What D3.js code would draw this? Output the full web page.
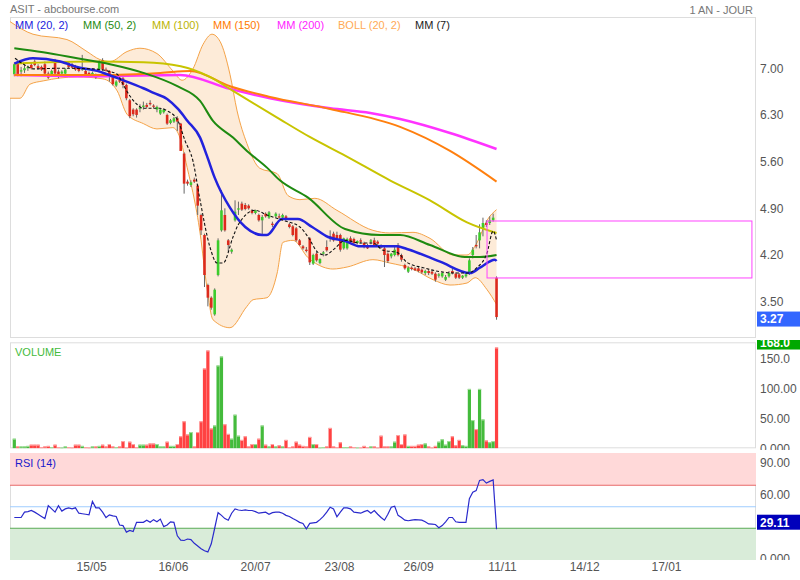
<!DOCTYPE html>
<html><head><meta charset="utf-8">
<script src="https://cdn.jsdelivr.net/npm/d3@7"></script>
<style>
body{margin:0;background:#fff;}
svg{display:block;font-family:"Liberation Sans",Arial,sans-serif;}
</style></head><body>
<svg id="c" width="800" height="580"></svg>
<script>
// ---------- DATA ----------
const opens=[6.91,7.10,6.95,6.97,7.00,7.05,7.10,7.03,7.02,7.06,6.92,6.90,7.10,6.95,6.92,6.92,7.08,7.06,7.03,7.00,6.98,6.96,6.93,6.90,6.90,6.98,7.12,6.98,6.96,6.88,6.74,6.82,6.85,6.75,6.52,6.38,6.38,6.40,6.42,6.45,6.48,6.44,6.38,6.32,6.34,6.30,6.18,6.20,6.25,6.17,5.72,5.30,5.25,5.33,5.24,4.80,4.50,3.75,3.56,3.31,3.90,4.57,4.80,4.42,4.25,4.72,4.88,4.97,4.95,4.94,4.87,4.83,4.80,4.72,4.82,4.76,4.67,4.78,4.78,4.76,4.78,4.66,4.63,4.60,4.42,4.33,4.28,4.45,4.07,4.22,4.08,4.22,4.32,4.48,4.52,4.50,4.50,4.30,4.30,4.45,4.44,4.38,4.42,4.38,4.35,4.40,4.42,4.40,4.33,4.30,4.22,4.18,4.20,4.35,4.20,4.05,3.95,4.01,4.00,4.00,3.98,3.93,3.96,3.95,3.92,3.89,3.88,3.83,3.88,3.96,3.92,3.91,3.86,3.88,3.92,4.20,4.35,4.42,4.60,4.68,4.68,4.72,3.86];
const highs=[7.08,7.12,7.02,7.05,7.04,7.08,7.13,7.06,7.04,7.10,6.95,6.98,7.14,6.98,6.97,7.00,7.10,7.08,7.05,7.02,7.20,6.98,6.95,6.95,6.92,7.12,7.15,7.01,6.97,6.90,6.82,6.85,6.90,6.77,6.54,6.40,6.40,6.46,6.50,6.48,6.52,6.46,6.44,6.40,6.40,6.32,6.24,6.27,6.28,6.18,5.74,5.33,5.32,5.36,5.26,4.82,4.52,3.77,3.58,3.70,4.45,5.17,4.90,4.44,4.30,5.02,5.00,5.00,4.98,4.96,4.89,4.88,4.82,4.80,4.84,4.86,4.70,4.84,4.82,4.82,4.80,4.68,4.65,4.62,4.44,4.35,4.32,4.47,4.22,4.25,4.15,4.26,4.42,4.57,4.55,4.55,4.52,4.46,4.46,4.48,4.46,4.42,4.45,4.40,4.37,4.44,4.46,4.42,4.36,4.32,4.24,4.23,4.33,4.38,4.22,4.07,4.03,4.03,4.02,4.02,4.00,3.98,3.98,3.97,3.94,3.93,3.95,3.90,3.96,4.00,3.94,3.93,3.90,3.93,4.15,4.32,4.50,4.66,4.76,4.72,4.78,4.82,3.88];
const lows=[6.88,6.88,6.88,6.93,6.96,6.98,7.03,6.98,6.96,6.90,6.84,6.88,6.90,6.85,6.90,6.90,7.00,7.00,6.96,6.94,6.96,6.90,6.88,6.88,6.84,6.95,6.96,6.95,6.80,6.74,6.72,6.78,6.70,6.52,6.25,6.28,6.26,6.34,6.38,6.40,6.44,6.40,6.34,6.30,6.32,6.15,6.16,6.18,6.06,5.76,5.12,5.24,5.22,5.28,4.80,4.50,3.72,3.43,3.38,3.29,3.88,4.55,4.55,4.25,4.22,4.70,4.80,4.86,4.87,4.88,4.81,4.81,4.70,4.50,4.76,4.74,4.62,4.76,4.74,4.74,4.72,4.60,4.48,4.40,4.34,4.28,4.24,4.05,4.05,4.10,4.06,4.18,4.25,4.40,4.40,4.43,4.25,4.28,4.28,4.38,4.36,4.36,4.37,4.30,4.29,4.36,4.33,4.35,4.30,4.02,4.08,4.15,4.18,4.18,4.10,3.98,3.93,3.97,3.96,3.94,3.92,3.90,3.90,3.90,3.80,3.86,3.86,3.81,3.86,3.91,3.84,3.84,3.84,3.86,3.90,4.15,4.30,4.30,4.48,4.62,4.65,4.70,3.23];
const closes=[7.06,6.91,6.97,7.00,7.02,7.00,7.05,7.00,6.98,6.92,6.86,6.96,6.92,6.88,6.95,6.98,7.02,7.01,6.98,6.96,7.00,6.91,6.90,6.93,6.86,7.09,6.98,6.97,6.90,6.76,6.80,6.80,6.75,6.55,6.28,6.31,6.30,6.41,6.44,6.42,6.46,6.43,6.42,6.38,6.38,6.17,6.22,6.25,6.20,5.76,5.27,5.27,5.29,5.30,4.94,4.57,3.90,3.56,3.41,3.68,4.42,4.87,4.57,4.35,4.28,4.85,4.90,4.88,4.89,4.90,4.83,4.87,4.72,4.77,4.78,4.84,4.65,4.82,4.77,4.80,4.74,4.62,4.50,4.42,4.35,4.30,4.26,4.09,4.20,4.12,4.14,4.24,4.27,4.46,4.42,4.45,4.28,4.45,4.44,4.40,4.38,4.41,4.40,4.32,4.30,4.42,4.35,4.37,4.32,4.20,4.11,4.22,4.28,4.20,4.13,4.00,4.01,3.99,3.97,3.96,3.94,3.96,3.93,3.92,3.83,3.91,3.93,3.87,3.93,3.93,3.86,3.86,3.89,3.91,4.12,4.28,4.33,4.54,4.68,4.65,4.72,4.76,3.27];
const volumes=[16,3,3,3,4,6,6,6,2,3,4,2,6,2,1,3,2,1,6,6,4,2,1,3,3,4,6,3,7,3,2,3,12,1,11,7,2,6,6,6,8,8,7,3,3,11,4,4,7,20,45,23,27,3,27,45,133,163,33,38,138,153,40,24,16,56,21,14,20,3,7,7,16,38,6,3,7,3,5,3,14,2,3,11,6,4,3,19,7,7,1,2,3,34,3,2,10,2,2,3,2,1,1,4,2,3,3,1,21,3,3,3,11,22,7,23,4,4,4,6,7,8,3,1,4,11,15,6,12,20,5,14,5,4,99,47,32,99,48,13,10,12,168];
const rsi=[40,40,40,45,45.5,46.5,45,43,41,39,51,48,45,51,46,48,49,48,49,44,43.5,43,42.5,55,49,49,45,40,42.5,41.5,41,33,32.5,26.4,28,27,35.5,35.5,35.5,37.5,35.5,38,36,38.5,31.5,33,36,35.5,23,19,18.6,20,19.5,16,13.5,11,9,8,15.5,30,44.5,42,39,37.5,44,48,47,46.5,47,46.5,46.5,45.5,44,44.5,45,43,44.5,45,45,44,42,41,39,37.5,35.5,34.5,29.5,34.5,35,35.5,38,41,45,49.6,48,40.6,45,49,49,48,45,44.5,44,45.5,46.5,44,46.5,43,40,37.5,43,49.6,50.5,42,40,37.5,37,37.5,38,37.8,37.5,36,34,33.8,33.5,30.5,32.5,36,40,40,36,35.5,35.5,35.5,57.5,63.5,65,74.5,75.3,72,73.6,74.9,29.11];
// moving averages / bands: [candle index, price]
const ma20=[[0,7.07],[5.5,7.15],[13.5,7.10],[19,7.01],[24.4,6.96],[27.3,6.91],[31,6.84],[38,6.70],[41,6.63],[45,6.54],[48.2,6.39],[51,6.21],[54.7,5.96],[56.7,5.69],[59,5.36],[63.5,4.91],[68,4.62],[73,4.50],[74.4,4.50],[78.8,4.74],[83.5,4.74],[87.7,4.62],[92.4,4.47],[97.4,4.41],[101.8,4.33],[112.7,4.33],[115.6,4.29],[125.4,4.10],[134.2,3.93],[137.1,4.01],[141.5,4.13],[142,4.11]];
const ma50=[[0,7.30],[8.5,7.24],[18.5,7.15],[28.2,7.06],[38,6.93],[48,6.73],[54.7,6.51],[58.5,6.21],[64.4,5.96],[68.5,5.76],[74.4,5.51],[78.2,5.32],[86.5,5.06],[97.4,4.59],[107.7,4.50],[113.6,4.50],[122.4,4.35],[132.7,4.17],[137.1,4.17],[142,4.20]];
const ma100=[[0,7.07],[23,7.10],[38,7.09],[49,7.03],[57.6,6.87],[64.4,6.66],[77.4,6.26],[87,5.97],[97.4,5.69],[110.6,5.32],[122.4,5.02],[133.3,4.69],[142,4.53]];
const ma150=[[0,6.90],[25,6.90],[43,6.93],[51.8,6.96],[63.5,6.73],[75.3,6.57],[93,6.39],[113.6,6.12],[128.3,5.76],[142,5.30]];
const ma200=[[0,6.90],[25,6.88],[48.8,6.90],[63.5,6.69],[75.3,6.55],[93,6.40],[104.8,6.33],[113.6,6.24],[128.3,6.03],[142,5.79]];
const bollUpper=[[-1.3,7.70],[5.5,7.51],[15.5,7.43],[21.4,7.25],[25.2,7.13],[28.2,7.10],[33.2,7.25],[37,7.30],[42,7.22],[46.7,6.96],[49.4,6.82],[52.6,6.99],[55.6,7.36],[58.2,7.51],[60.6,7.40],[63.5,6.91],[65.6,6.36],[68.5,5.87],[72.3,5.50],[77.4,5.42],[80.6,5.09],[84.1,5.03],[88.5,5.05],[95,4.87],[105.6,4.57],[110.6,4.53],[117.4,4.54],[122.4,4.45],[129.2,4.20],[133.3,4.20],[136.2,4.38],[139.2,4.72],[142,4.88]];
const bollLower=[[-1.3,6.55],[1.7,6.55],[4.6,6.76],[8.5,6.81],[18.5,6.87],[26.1,6.84],[30.3,6.66],[33.2,6.31],[38,6.17],[42,6.09],[46.7,6.11],[48.2,6.03],[50.9,5.51],[54.7,4.53],[56.7,3.72],[58.5,3.23],[63.5,3.11],[68.5,3.43],[70.3,3.53],[74.4,3.56],[77.4,3.93],[79.1,4.39],[82.1,4.42],[86.5,4.16],[90.9,4.02],[93.8,3.99],[98,4.02],[105.6,4.13],[110.6,4.08],[117.4,3.99],[123.3,3.83],[128.3,3.75],[133.3,3.78],[135.7,3.86],[139.2,3.68],[142,3.46]];
const ma7=[[0.2,7.15],[3.7,7.03],[5.5,6.99],[13.5,7.00],[23.2,6.99],[27.3,6.96],[30.3,6.91],[32,6.76],[34.1,6.58],[36.1,6.46],[37.9,6.40],[42.9,6.40],[45,6.36],[48,6.23],[50.3,5.91],[52.6,5.61],[54.7,5.02],[57.6,4.32],[59.7,4.08],[61.5,4.08],[64.4,4.47],[65.9,4.65],[70.9,4.87],[74.4,4.80],[79.1,4.72],[84.1,4.62],[86.5,4.47],[89.4,4.24],[91.5,4.20],[94.4,4.30],[97.4,4.42],[101.8,4.38],[105.6,4.38],[108.6,4.27],[112.7,4.24],[115.6,4.09],[120.4,4.01],[125.4,3.95],[130.3,3.93],[133.6,3.93],[136.2,4.01],[139.2,4.23],[141,4.56],[142,4.42]];
const zoneSlots=[139.2,217.2];
const zonePrices=[3.856,4.71];
const priceTicks=[7.0,6.3,5.6,4.9,4.2,3.5];
const volumeTicks=[150,100,50,0];
const volumeTickLabels=["150.0","100.00","50.00","0.000"];
const rsiTicks=[90,60,0];
const rsiTickLabels=["90.00","60.00","0.000"];
const rsiLevels=[70,50,30];
const dateTickSlots=[22.6,46.7,70.9,95.6,118.9,143.6,167.8,191.9];
const dateTickLabels=["15/05","16/06","20/07","23/08","26/09","11/11","14/12","17/01"];
const lastPrice=3.27, lastVolume=168.0, lastRsi=29.11;
const legendItems=["MM (20, 2)","MM (50, 2)","MM (100)","MM (150)","MM (200)","BOLL (20, 2)","MM (7)"];

// ---------- DRAW ----------
const svg=d3.select("#c");
const L=10,R=756;
const x=d3.scaleLinear().domain([-1.27,218.4]).range([L,R]);
const yP=d3.scaleLinear().domain([2.956,7.768]).range([338,17]);
const yV=d3.scaleLinear().domain([0,176.7]).range([448.3,342.3]);
const yR=d3.scaleLinear().domain([0,100]).range([560.5,453]);
const grey="#555";

const defs=svg.append("defs");
function clip(id,x0,y0,w,h){defs.append("clipPath").attr("id",id).append("rect").attr("x",x0).attr("y",y0).attr("width",w).attr("height",h);}
clip("cpMain",L,17,R-L,321);
clip("cpVol",L,342,R-L,106.5);
clip("cpRsi",L,453,R-L,107);
clip("cpVolLab",R,340,44,110);
clip("cpRsiLab",R,451,44,109);

// titles
svg.append("text").attr("x",10).attr("y",13).attr("font-size",11).attr("fill","#777").text("ASIT - abcbourse.com");
svg.append("text").attr("x",753).attr("y",14).attr("font-size",11).attr("text-anchor","end").attr("fill","#777").text("1 AN - JOUR");

// panel frames
[[17,338],[342.3,448.3],[453,560]].forEach(([a,b])=>{
  svg.append("rect").attr("x",L+0.5).attr("y",a+0.5).attr("width",R-L-1).attr("height",b-a-1)
    .attr("fill","#fff").attr("stroke","#ddd");
});

// ---------- main panel ----------
const gM=svg.append("g").attr("clip-path","url(#cpMain)");
const curve=d3.curveMonotoneX;
const ln=d3.line().x(d=>x(d[0])).y(d=>yP(d[1])).curve(curve);
const up=ln(bollUpper), lo=ln(bollLower.slice().reverse());
gM.append("path").attr("d",up+"L"+lo.substring(1)+"Z").attr("fill","#fdebd8").attr("stroke","none");
gM.append("path").attr("d",up).attr("fill","none").attr("stroke","#f5a348").attr("stroke-width",1);
gM.append("path").attr("d",ln(bollLower)).attr("fill","none").attr("stroke","#f5a348").attr("stroke-width",1);

// candles
const idx=d3.range(closes.length);
gM.append("g").selectAll("line").data(idx).join("line")
  .attr("x1",i=>x(i)).attr("x2",i=>x(i)).attr("y1",i=>yP(highs[i])).attr("y2",i=>yP(lows[i]))
  .attr("stroke","#666").attr("stroke-width",1);
gM.append("g").selectAll("rect").data(idx).join("rect")
  .attr("x",i=>x(i)-1.3).attr("width",2.6)
  .attr("y",i=>yP(Math.max(opens[i],closes[i])))
  .attr("height",i=>Math.max(1.2,Math.abs(yP(opens[i])-yP(closes[i]))))
  .attr("fill",i=>closes[i]>=opens[i]?"#3ccc2c":"#dc2a1c");

// moving averages
const lines=[[ma200,"#ff33ff",2.5],[ma150,"#ff7f0e",2],[ma100,"#c8c400",2],[ma50,"#1e8a10",2],[ma20,"#2222dd",2.5]];
lines.forEach(([d,c,w])=>gM.append("path").attr("d",ln(d)).attr("fill","none").attr("stroke",c).attr("stroke-width",w));
gM.append("path").attr("d",ln(ma7)).attr("fill","none").attr("stroke","#111").attr("stroke-width",1.1).attr("stroke-dasharray","3,2");

// zone box
gM.append("rect").attr("x",x(zoneSlots[0])).attr("y",yP(zonePrices[1]))
  .attr("width",x(zoneSlots[1])-x(zoneSlots[0])).attr("height",yP(zonePrices[0])-yP(zonePrices[1]))
  .attr("fill","none").attr("stroke","#ff44ff").attr("stroke-width",1);

// legend
const legColors=["#2222dd","#1e8a10","#bbb400","#ff7a00","#ff22ff","#ffaa55","#222"];
const legX=[15,83,152,213,277,338,415];
legendItems.forEach((t,i)=>svg.append("text").attr("x",legX[i]).attr("y",29).attr("font-size",11).attr("fill",legColors[i]).text(t));

// price axis
const aP=svg.append("g").attr("transform",`translate(${R},0)`)
  .call(d3.axisRight(yP).tickValues(priceTicks).tickFormat(d3.format(".2f")).tickSize(0).tickPadding(4));
aP.select(".domain").remove();
aP.selectAll("text").attr("font-size",12).attr("fill",grey).attr("font-family","Liberation Sans, Arial, sans-serif");
svg.append("rect").attr("x",757).attr("y",yP(lastPrice)-5.5).attr("width",43).attr("height",15).attr("fill","#3366ff");
svg.append("text").attr("x",760).attr("y",yP(lastPrice)+6).attr("font-size",12).attr("font-weight","bold").attr("fill","#fff").text(lastPrice.toFixed(2));

// ---------- volume panel ----------
const gV=svg.append("g").attr("clip-path","url(#cpVol)");
gV.selectAll("rect.v").data(idx).join("rect").attr("class","v")
  .attr("x",i=>x(i)-1.6).attr("width",3.2)
  .attr("y",i=>yV(volumes[i])).attr("height",i=>yV(0)-yV(volumes[i]))
  .attr("fill",i=>closes[i]>=opens[i]?"#44bb3c":"#ff4242");
gV.selectAll("rect.t").data(idx).join("rect").attr("class","t")
  .attr("x",i=>x(i)-1.6).attr("width",3.2)
  .attr("y",i=>yV(volumes[i])).attr("height",1)
  .attr("fill",i=>closes[i]>=opens[i]?"#a8e0a0":"#ffaaaa");
svg.append("text").attr("x",15).attr("y",356).attr("font-size",11).attr("fill","#44bb3c").text("VOLUME");
const aVg=svg.append("g").attr("clip-path","url(#cpVolLab)");
const aV=aVg.append("g").attr("transform",`translate(${R},0)`)
  .call(d3.axisRight(yV).tickValues(volumeTicks).tickFormat((d,i)=>volumeTickLabels[i]).tickSize(0).tickPadding(4));
aV.select(".domain").remove();
aV.selectAll("text").attr("font-size",12).attr("fill",grey).attr("font-family","Liberation Sans, Arial, sans-serif");
aVg.append("rect").attr("x",757).attr("y",yV(lastVolume)-13).attr("width",43).attr("height",15).attr("fill","#00a800");
aVg.append("text").attr("x",760).attr("y",yV(lastVolume)-1).attr("font-size",12).attr("font-weight","bold").attr("fill","#fff").text(lastVolume.toFixed(1));

// ---------- RSI panel ----------
const gR=svg.append("g").attr("clip-path","url(#cpRsi)");
gR.append("rect").attr("x",L).attr("width",R-L).attr("y",yR(100)).attr("height",yR(70)-yR(100)).attr("fill","#ffd9d9");
gR.append("rect").attr("x",L).attr("width",R-L).attr("y",yR(30)).attr("height",yR(0)-yR(30)).attr("fill","#d9ecd9");
const lvlCol=["#e86a6a","#9fcdff","#5aaa55"];
rsiLevels.forEach((v,i)=>gR.append("line").attr("x1",L).attr("x2",R).attr("y1",yR(v)).attr("y2",yR(v)).attr("stroke",lvlCol[i]).attr("stroke-width",1));
gR.append("path").attr("d",d3.line().x((d,i)=>x(i)).y(d=>yR(d))(rsi)).attr("fill","none").attr("stroke","#2a2acc").attr("stroke-width",1.2);
svg.append("text").attr("x",15).attr("y",467).attr("font-size",11).attr("fill","#1a1acc").text("RSI (14)");
const aRg=svg.append("g").attr("clip-path","url(#cpRsiLab)");
const aR=aRg.append("g").attr("transform",`translate(${R},-1.5)`)
  .call(d3.axisRight(yR).tickValues(rsiTicks).tickFormat((d,i)=>rsiTickLabels[i]).tickSize(0).tickPadding(4));
aR.select(".domain").remove();
aR.selectAll("text").attr("font-size",12).attr("fill",grey).attr("font-family","Liberation Sans, Arial, sans-serif");
aRg.append("rect").attr("x",757).attr("y",yR(lastRsi)-14.5).attr("width",43).attr("height",15).attr("fill","#0000bb");
aRg.append("text").attr("x",760).attr("y",yR(lastRsi)-2.5).attr("font-size",12).attr("font-weight","bold").attr("fill","#fff").text(lastRsi.toFixed(2));

// date axis
const aX=svg.append("g").attr("transform","translate(0,562)")
  .call(d3.axisBottom(x).tickValues(dateTickSlots).tickFormat((d,i)=>dateTickLabels[i]).tickSize(0).tickPadding(0));
aX.select(".domain").remove();
aX.selectAll("text").attr("font-size",12).attr("fill",grey).attr("font-family","Liberation Sans, Arial, sans-serif");
</script>
</body></html>
